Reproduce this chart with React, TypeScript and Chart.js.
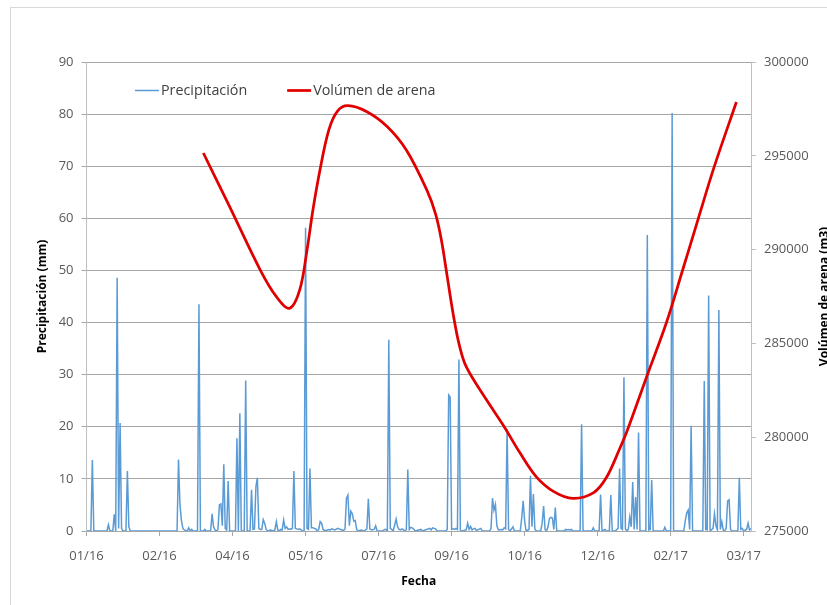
import React, { useEffect, useRef } from 'react';
import { Chart, registerables } from 'chart.js';

Chart.register(...registerables);

// X axis: days counted from 01/01/2016, ticks every 50 days
const tickDays = [0, 50, 100, 150, 200, 250, 300, 350, 400, 450];
const tickLabels = ['01/16', '02/16', '04/16', '05/16', '07/16', '09/16', '10/16', '12/16', '02/17', '03/17'];

// Daily precipitation (mm): day index and value (flat zero stretches given by their end points)
const precipDays = [
  0, 3, 4, 5, 14, 15, 16, 18, 19, 20, 21, 22, 23, 24, 25, 27, 28, 29, 30,
  62, 63, 64, 65, 66, 67, 69, 70, 71, 72, 73, 76, 77, 78, 80, 81, 82,
  85, 86, 87, 88, 89, 90, 91, 92, 93, 94, 95, 96, 97, 98, 102, 103, 104, 105, 106,
  108, 109, 110, 112, 113, 114, 115, 116, 117, 118, 119, 120, 121, 122, 123, 124,
  126, 128, 129, 130, 131, 132, 133, 134, 135, 136, 137, 138, 139, 140, 141, 142, 143, 144, 145, 146, 147, 148,
  149, 150, 151, 152, 153, 154, 155, 156, 157, 158, 159, 160, 161, 162, 163, 164, 166, 167, 168, 170, 172, 173, 174, 175, 176, 177,
  178, 179, 180, 181, 182, 183, 184, 185, 186,
  188, 190, 192, 193, 194, 195, 197, 198, 199, 203, 204, 205, 206, 207, 208, 209, 210, 212, 213, 214, 215, 216, 217, 218, 219,
  220, 221, 222, 223, 224, 225, 229, 230, 235, 236, 237, 238, 239, 240, 246, 247, 248, 249, 250, 251, 252, 253, 254,
  255, 256, 257, 260, 261, 262, 263, 264, 265, 266, 267, 270, 271, 276, 277, 278, 279, 280, 281, 282, 284, 285, 286, 287,
  288, 289, 290, 292, 293, 297, 298, 299, 300, 301, 303, 304, 305, 306, 307, 308, 311, 312, 313, 314, 315, 316, 317, 318,
  319, 320, 321, 322, 327, 328, 329, 330, 331, 332, 333, 338, 339, 340, 346, 347, 348, 351, 352, 353, 355, 356, 358, 359,
  360, 362, 364, 365, 366, 367, 368, 369, 370, 371, 372, 373, 374, 375, 376, 377, 378, 379, 383, 384, 385, 386, 387, 388,
  395, 396, 397, 400, 401, 402, 409, 410, 411, 412, 413, 414, 415, 422, 423, 424, 425, 426, 427, 429, 430, 431, 432, 433,
  434, 435, 436, 437, 438, 439, 440, 441, 442, 446, 447, 448, 449, 450, 452, 453, 454, 455,
];
const precipMm = [
  0, 0, 13.6, 0, 0, 1.2, 0, 0, 3.2, 0, 48.6, 0.5, 20.7, 0.5, 0, 0, 11.5, 0.8, 0,
  0, 13.7, 5.0, 2.0, 0.5, 0.2, 0, 0.6, 0, 0.3, 0, 0, 43.5, 0, 0, 0.3, 0,
  0, 3.3, 0.8, 0.2, 0, 0.3, 5.0, 5.2, 1.0, 12.8, 0.5, 0.2, 9.6, 0, 0, 17.8, 0, 22.6, 0,
  0, 28.9, 0, 0, 7.9, 0.3, 0.4, 8.5, 10.2, 0.5, 0.3, 0.3, 2.2, 1.5, 0.3, 0,
  0.2, 0, 0.2, 1.8, 0.2, 0, 0.3, 0.2, 2.1, 0.5, 0.8, 0.3, 0.4, 0.3, 0.5, 11.5, 0.5, 0.4, 0.3, 0.4, 0.2, 0,
  0, 58.2, 0.5, 0.3, 12.0, 0.6, 0.6, 0.5, 0.4, 0, 0.3, 1.8, 1.5, 0.3, 0.1, 0.1, 0.3, 0.2, 0.4, 0.2, 0.5, 0.4, 0.3, 0.2, 0.1, 0.4,
  6.3, 6.9, 1.0, 3.8, 3.3, 1.9, 2.0, 0.3, 0,
  0.2, 0, 0.4, 6.2, 0.4, 0.2, 0.3, 1.0, 0, 0, 0.3, 0.3, 0, 36.7, 0.5, 0.3, 0, 2.3, 0.8, 0.3, 0.2, 0.4, 0.2, 0, 0.3,
  11.8, 0.3, 0.7, 0.6, 0.4, 0, 0.3, 0, 0.5, 0.2, 0.6, 0.5, 0.4, 0, 0, 0.3, 26.1, 25.7, 0.3, 0.4, 0.3, 0.5, 0.3,
  32.9, 0.2, 0, 0.2, 1.5, 0.3, 0.9, 0.2, 0.4, 0.5, 0.1, 0.5, 0, 0, 0.5, 6.3, 4.0, 5.1, 1.0, 0.2, 0.3, 0.2, 0.6, 0.4,
  19.5, 0.3, 0, 0.8, 0, 0, 2.5, 5.8, 2.0, 0, 0.3, 10.6, 0.8, 7.1, 0.4, 0, 0, 1.5, 4.8, 0.3, 0, 0.8, 2.4, 2.6,
  2.5, 0.3, 4.5, 0, 0, 0.3, 0.2, 0.3, 0.2, 0.3, 0, 0, 20.5, 0, 0, 0.6, 0, 0, 7.0, 0, 0.3, 0, 0, 6.9,
  0, 0, 0.5, 12.0, 0.5, 0.3, 29.5, 0.4, 0, 0.3, 2.7, 0.8, 9.4, 0.3, 6.5, 0.3, 18.9, 0, 0, 56.8, 0.2, 0.3, 9.8, 0,
  0, 0.7, 0, 0, 80.2, 0, 0, 2.0, 3.5, 4.0, 0.3, 20.2, 0, 0, 28.8, 0.3, 0.2, 45.2, 0, 0.5, 3.3, 1.0, 0.2, 42.4,
  0.3, 1.8, 0.2, 0, 0.5, 5.8, 6.0, 0.3, 0, 0, 10.2, 0.3, 0.5, 0, 0.3, 1.5, 0.2, 0.5,
];

// Sand volume (m3)
const volumeDays = [
  80, 98, 119, 130, 139, 146, 151, 155, 160, 166, 172, 179, 192, 206, 219, 233, 239, 243, 247, 251,
  255, 260, 274, 286, 297, 308, 320, 333, 347, 356, 365, 370, 384, 397, 408, 419, 430, 445,
];
const volumeM3 = [
  295150, 292290, 288910, 287490, 286870, 287850, 289980, 292100, 294300, 296400, 297400, 297670, 297350, 296550, 295310, 293180, 291900, 290510, 288560, 286600,
  285000, 283760, 281980, 280560, 279140, 277890, 277100, 276740, 277030, 277850, 279370, 280300, 283320, 286090, 288860, 291680, 294460, 297870,
];

const seriesNames = ['Precipitación', 'Volúmen de arena'];
const axisTitles = { x: 'Fecha', y: 'Precipitación (mm)', y1: 'Volúmen de arena (m3)' };

const FONT = "'Open Sans', sans-serif";

const decor = {
  id: 'decor',
  beforeDraw(chart: any) {
    const { ctx, width, height } = chart;
    ctx.save();
    ctx.fillStyle = '#ffffff';
    ctx.fillRect(0, 0, width, height);
    ctx.strokeStyle = '#d9d9d9';
    ctx.lineWidth = 1;
    ctx.strokeRect(10.5, 7.5, width + 40, height + 40);
    ctx.restore();
  },
  afterDraw(chart: any) {
    const { ctx, chartArea: a } = chart;
    ctx.save();
    // legend
    ctx.font = `14.3px ${FONT}`;
    ctx.textBaseline = 'middle';
    ctx.textAlign = 'left';
    let x = 135;
    const ly = 90.5;
    chart.data.datasets.forEach((ds: any) => {
      ctx.strokeStyle = ds.borderColor;
      ctx.lineWidth = ds.borderWidth;
      ctx.beginPath();
      ctx.moveTo(x, ly);
      ctx.lineTo(x + 24, ly);
      ctx.stroke();
      ctx.fillStyle = '#404040';
      ctx.fillText(ds.label, x + 26, ly);
      x += 26 + ctx.measureText(ds.label).width + 40;
    });
    // axis titles
    ctx.fillStyle = '#000000';
    ctx.font = `bold 12px ${FONT}`;
    ctx.textAlign = 'center';
    ctx.textBaseline = 'middle';
    const cy = (a.top + a.bottom) / 2;
    ctx.fillText(axisTitles.x, (a.left + a.right) / 2, 581.5);
    ctx.save();
    ctx.translate(42.5, cy);
    ctx.rotate(-Math.PI / 2);
    ctx.fillText(axisTitles.y, 0, 0);
    ctx.restore();
    ctx.save();
    ctx.translate(825, cy);
    ctx.rotate(-Math.PI / 2);
    ctx.fillText(axisTitles.y1, 0, 0);
    ctx.restore();
    ctx.restore();
  },
};

export default function App() {
  const ref = useRef<HTMLCanvasElement>(null);
  useEffect(() => {
    if (!ref.current) return;
    const tickFont = { family: FONT, size: 13 };
    const chart = new Chart(ref.current, {
      type: 'line',
      data: {
        datasets: [
          {
            label: seriesNames[0],
            data: precipDays.map((d, i) => ({ x: d, y: precipMm[i] })),
            borderColor: '#5b9bd5',
            borderWidth: 1.5,
            pointRadius: 0,
            tension: 0,
            yAxisID: 'y',
            order: 1,
          },
          {
            label: seriesNames[1],
            data: volumeDays.map((d, i) => ({ x: d, y: volumeM3[i] })),
            borderColor: '#e00000',
            borderWidth: 2.75,
            pointRadius: 0,
            tension: 0.35,
            yAxisID: 'y1',
            order: 0,
          },
        ],
      },
      options: {
        animation: false,
        responsive: false,
        layout: { padding: { top: 62, left: 0, right: 0, bottom: 0 } },
        plugins: { legend: { display: false }, tooltip: { enabled: false } },
        scales: {
          x: {
            type: 'linear',
            min: 0,
            max: 455,
            afterBuildTicks: (s: any) => {
              s.ticks = tickDays.map((v) => ({ value: v }));
            },
            afterFit: (s: any) => {
              s.height = 74;
            },
            ticks: {
              callback: (_v: any, i: number) => tickLabels[i],
              font: tickFont,
              color: '#595959',
              padding: 12,
              maxRotation: 0,
              autoSkip: false,
            },
            grid: { drawOnChartArea: false, drawTicks: true, tickLength: 5, color: '#a6a6a6' },
            border: { color: '#a6a6a6' },
          },
          y: {
            type: 'linear',
            position: 'left',
            min: 0,
            max: 90,
            afterFit: (s: any) => {
              s.width = 86.5;
            },
            ticks: { stepSize: 10, font: tickFont, color: '#595959', padding: 8 },
            grid: { color: '#a6a6a6', tickLength: 5 },
            border: { color: '#bfbfbf' },
          },
          y1: {
            type: 'linear',
            position: 'right',
            min: 275000,
            max: 300000,
            afterFit: (s: any) => {
              s.width = 76;
            },
            ticks: {
              stepSize: 5000,
              font: tickFont,
              color: '#595959',
              padding: 8,
              callback: (v: any) => String(v),
            },
            grid: { drawOnChartArea: false, tickLength: 5, color: '#bfbfbf' },
            border: { color: '#bfbfbf' },
          },
        },
      },
      plugins: [decor],
    } as any);
    return () => chart.destroy();
  }, []);
  return (
    <div style={{ position: 'fixed', left: 0, top: 0, width: 827, height: 605 }}>
      <canvas ref={ref} width={827} height={605} style={{ display: 'block' }} />
    </div>
  );
}
